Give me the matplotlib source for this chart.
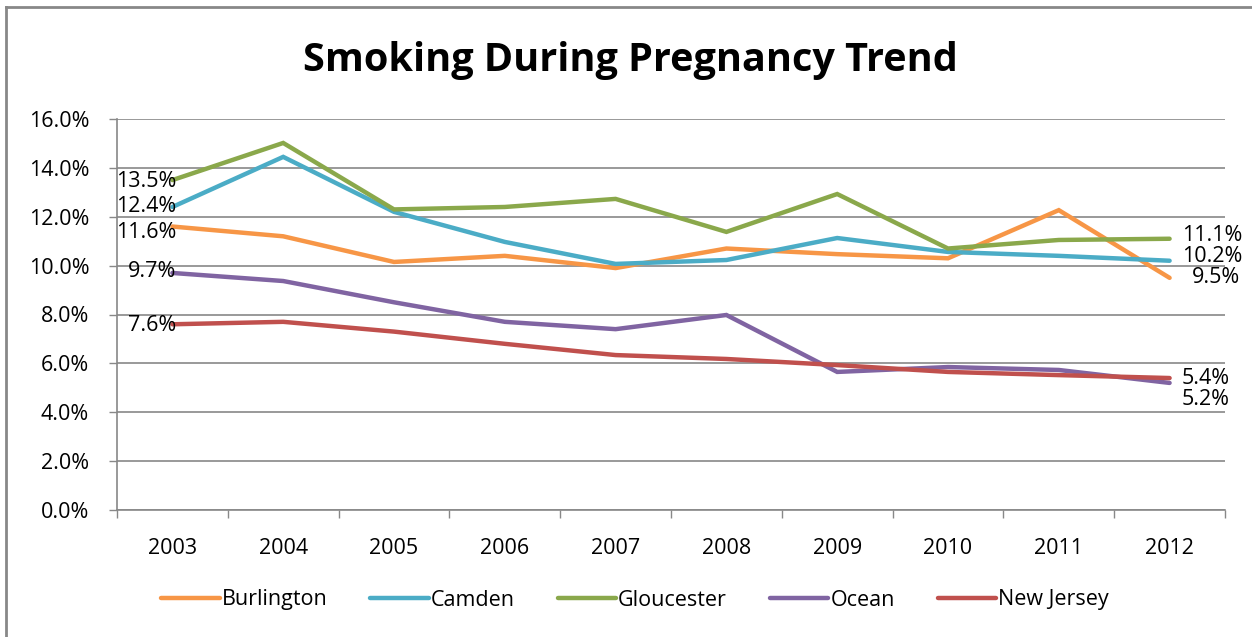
import matplotlib
matplotlib.use("Agg")
import matplotlib.pyplot as plt
from matplotlib.lines import Line2D

years = ["2003", "2004", "2005", "2006", "2007", "2008", "2009", "2010", "2011", "2012"]
burlington = [11.6, 11.2, 10.15, 10.4, 9.9, 10.7, 10.47, 10.3, 12.27, 9.5]
camden = [12.4, 14.45, 12.2, 10.97, 10.07, 10.23, 11.13, 10.56, 10.4, 10.2]
gloucester = [13.5, 15.02, 12.3, 12.4, 12.73, 11.38, 12.93, 10.7, 11.05, 11.1]
ocean = [9.7, 9.37, 8.5, 7.7, 7.4, 7.98, 5.65, 5.85, 5.73, 5.2]
new_jersey = [7.6, 7.7, 7.3, 6.8, 6.34, 6.18, 5.93, 5.65, 5.52, 5.4]

series = [
    ("Burlington", burlington, "#F79646"),
    ("Camden", camden, "#4BACC6"),
    ("Gloucester", gloucester, "#8AA84B"),
    ("Ocean", ocean, "#8064A2"),
    ("New Jersey", new_jersey, "#C0504D"),
]

# label offsets (points) for first / last labels
first_off = {"Burlington": -4, "Camden": 0, "Gloucester": -0.7, "Ocean": 0.7, "New Jersey": -0.7}
last_off = {"Burlington": (16, 0), "Camden": (9, 3.4), "Gloucester": (9, 2), "Ocean": (9, -12), "New Jersey": (9, 0)}

plt.rcParams['font.family'] = ['Open Sans', 'DejaVu Sans']
FS = 15.5

fig = plt.figure(figsize=(12.52, 6.37), dpi=100)
ax = fig.add_axes([117/1252, 1 - 510/637, (1225 - 117)/1252, (510 - 119)/637])

x = list(range(len(years)))
for name, vals, col in series:
    ax.plot(x, vals, color=col, lw=3.2, solid_capstyle='round', solid_joinstyle='miter', zorder=3)
    ax.annotate(f"{vals[0]:.1f}%", (x[0], vals[0]), xytext=(3, first_off[name]),
                textcoords='offset points', ha='right', va='center', fontsize=FS, color='black', zorder=4)
    dx, dy = last_off[name]
    ax.annotate(f"{vals[-1]:.1f}%", (x[-1], vals[-1]), xytext=(dx, dy),
                textcoords='offset points', ha='left', va='center', fontsize=FS, color='black', zorder=4)

ax.set_xlim(-0.5, len(years) - 0.5)
ax.set_ylim(0, 16)
ax.set_yticks([0, 2, 4, 6, 8, 10, 12, 14, 16])
ax.set_yticklabels([f"{v:.1f}%" for v in range(0, 17, 2)], fontsize=FS)
ax.set_xticks(x)
ax.set_xticklabels(years, fontsize=FS)
ax.set_xticks([i - 0.5 for i in range(len(years) + 1)], minor=True)
ax.tick_params(axis='x', which='major', length=0, pad=20)
ax.tick_params(axis='x', which='minor', length=6, color='#888888', width=1)
ax.tick_params(axis='y', length=6, color='#888888', width=1, pad=14)
ax.grid(axis='y', color='#888888', lw=1.2, zorder=1)
for s in ['top', 'right']:
    ax.spines[s].set_visible(False)
ax.spines['left'].set_color('#888888')
ax.spines['bottom'].set_color('#888888')
ax.spines['left'].set_linewidth(1.2)
ax.spines['bottom'].set_linewidth(1.2)

fig.text(630/1252, 1 - 60/637, "Smoking During Pregnancy Trend", ha='center', va='center',
         fontsize=28.5, fontweight='bold')

handles = [Line2D([0], [0], color=c, lw=3.2, solid_capstyle='round') for _, _, c in series]
fig.legend(handles, [n for n, _, _ in series], loc='center', bbox_to_anchor=(635/1252, 1 - 600/637),
           ncol=5, frameon=False, fontsize=FS, handlelength=2.7, handletextpad=0.1, columnspacing=2.0)

# chart border (top and left visible)
fig.add_artist(Line2D([6/1252, 6/1252], [0, 1 - 7/637], transform=fig.transFigure, color='#888888', lw=2))
fig.add_artist(Line2D([6/1252, 1], [1 - 7/637, 1 - 7/637], transform=fig.transFigure, color='#888888', lw=2))

fig.savefig("out.png", dpi=100)
